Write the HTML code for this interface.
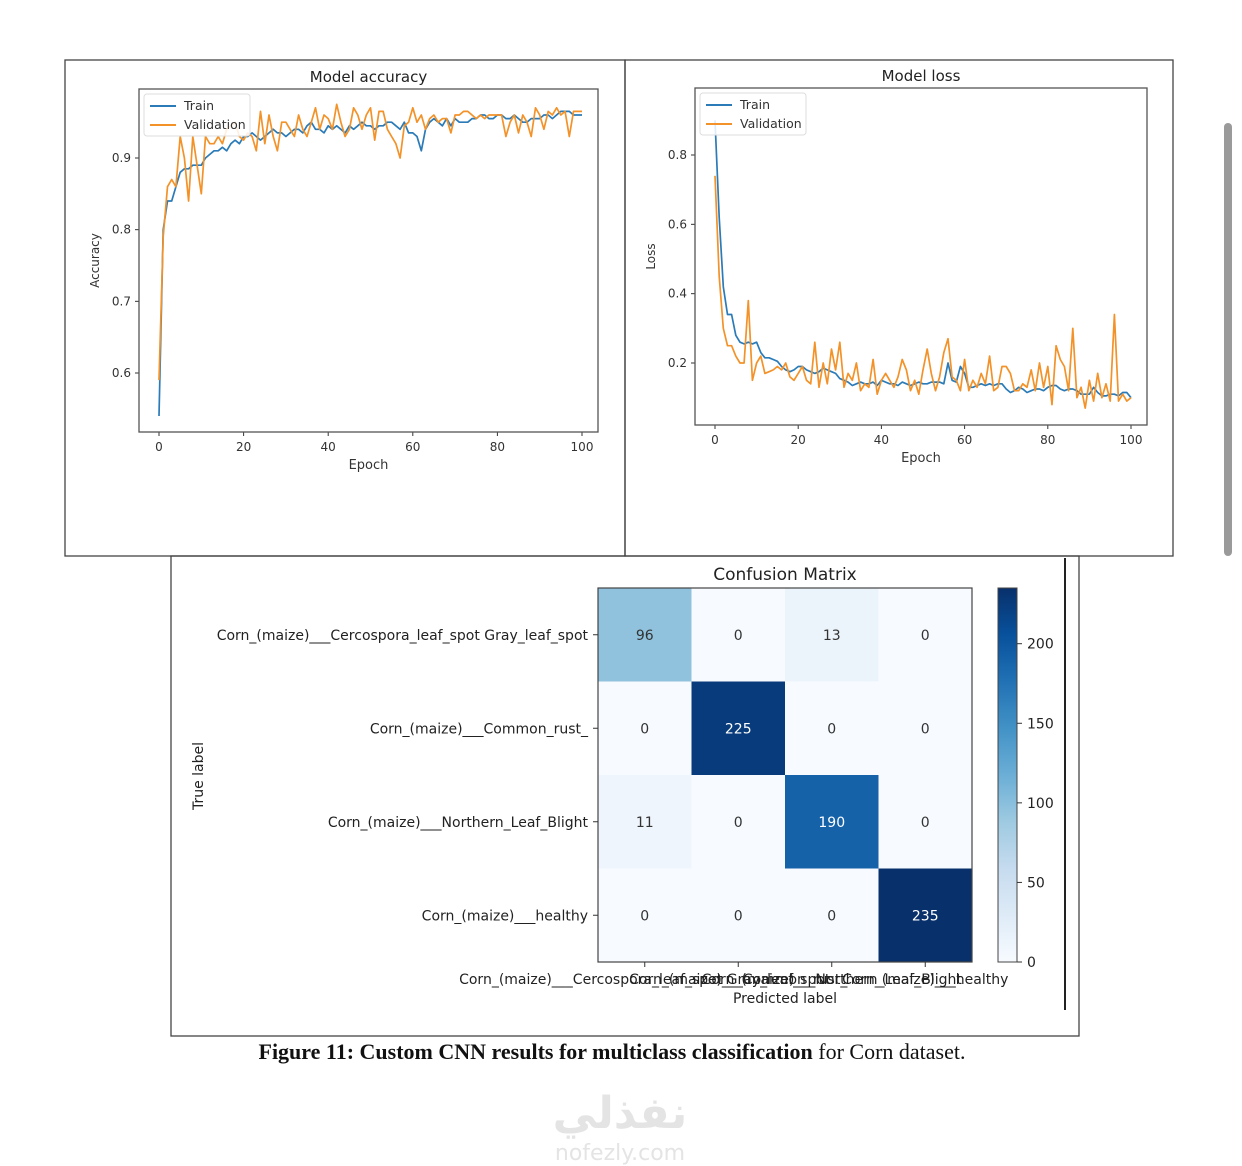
<!DOCTYPE html>
<html><head><meta charset="utf-8"><style>
html,body{margin:0;padding:0;background:#fff;}
body{width:1242px;height:1166px;position:relative;overflow:hidden;font-family:"DejaVu Sans","Liberation Sans",sans-serif;}
svg{position:absolute;left:0;top:0;}
</style></head><body>
<svg id="fig" width="1242" height="1166">
  <rect x="65" y="60" width="560" height="496" fill="none" stroke="#444" stroke-width="1.3"/>
  <rect x="625" y="60" width="548" height="496" fill="none" stroke="#444" stroke-width="1.3"/>
  <rect x="171" y="556" width="908" height="480" fill="none" stroke="#444" stroke-width="1.3"/>
  <line x1="1065" y1="558" x2="1065" y2="1010" stroke="#222" stroke-width="2"/>
  <rect x="1224" y="123" width="8" height="433" rx="4" fill="#9a9a9a"/>
  <g id="acc"></g><g id="loss"></g><g id="cm"></g>
  <text x="612" y="1059" text-anchor="middle" font-family="Liberation Serif, serif" font-size="22" fill="#111"><tspan font-weight="bold">Figure 11: Custom CNN results for multiclass classification</tspan> for Corn dataset.</text>
  <text x="620" y="1128" text-anchor="middle" font-family="Noto Sans CJK SC, DejaVu Sans, sans-serif" font-size="44" font-weight="bold" fill="#e4e4e4">نفذلي</text>
  <text x="620" y="1160" text-anchor="middle" font-size="22" fill="#e4e4e4">nofezly.com</text>
</svg>
<script>
const epochs = Array.from({length:101},(_,i)=>i);
const trainAcc=[0.54,0.80,0.84,0.84,0.86,0.88,0.885,0.885,0.89,0.89,
0.89,0.90,0.905,0.91,0.91,0.915,0.91,0.92,0.925,0.92,
0.93,0.93,0.935,0.93,0.925,0.93,0.935,0.94,0.935,0.935,
0.93,0.935,0.94,0.94,0.935,0.945,0.95,0.94,0.94,0.935,
0.945,0.94,0.945,0.94,0.935,0.945,0.94,0.945,0.95,0.945,
0.945,0.94,0.945,0.945,0.95,0.95,0.945,0.94,0.95,0.935,
0.935,0.93,0.91,0.94,0.95,0.955,0.95,0.945,0.955,0.945,
0.955,0.95,0.95,0.95,0.955,0.955,0.96,0.96,0.955,0.955,
0.96,0.96,0.955,0.955,0.96,0.955,0.95,0.95,0.955,0.955,
0.955,0.96,0.96,0.955,0.96,0.965,0.965,0.965,0.96,0.96,0.96];
const valAcc=[0.59,0.79,0.86,0.87,0.86,0.93,0.90,0.84,0.93,0.89,
0.85,0.93,0.92,0.92,0.93,0.92,0.94,0.945,0.95,0.93,
0.925,0.935,0.93,0.91,0.965,0.92,0.96,0.93,0.91,0.95,
0.95,0.94,0.93,0.96,0.94,0.93,0.95,0.97,0.94,0.96,
0.955,0.94,0.975,0.95,0.93,0.94,0.97,0.96,0.94,0.96,
0.97,0.925,0.965,0.965,0.94,0.93,0.92,0.90,0.945,0.95,
0.97,0.95,0.96,0.94,0.955,0.96,0.95,0.955,0.955,0.935,
0.96,0.96,0.965,0.965,0.96,0.955,0.96,0.955,0.96,0.96,
0.96,0.96,0.93,0.95,0.96,0.935,0.96,0.95,0.93,0.97,
0.96,0.94,0.965,0.96,0.97,0.96,0.965,0.93,0.965,0.965,0.965];
const trainLoss=[0.90,0.62,0.42,0.34,0.34,0.28,0.26,0.255,0.26,0.255,
0.26,0.23,0.215,0.215,0.21,0.205,0.19,0.18,0.175,0.18,
0.19,0.19,0.18,0.175,0.17,0.175,0.185,0.18,0.175,0.17,
0.155,0.15,0.145,0.135,0.14,0.145,0.14,0.14,0.145,0.135,
0.15,0.145,0.14,0.14,0.135,0.145,0.14,0.135,0.14,0.145,
0.14,0.14,0.145,0.145,0.145,0.14,0.20,0.15,0.145,0.19,
0.17,0.13,0.13,0.135,0.14,0.135,0.14,0.135,0.14,0.14,
0.125,0.115,0.12,0.13,0.125,0.115,0.12,0.125,0.125,0.12,
0.13,0.135,0.135,0.125,0.12,0.125,0.125,0.12,0.11,0.11,
0.11,0.13,0.115,0.105,0.105,0.11,0.11,0.105,0.115,0.115,0.10];
const valLoss=[0.74,0.45,0.30,0.25,0.25,0.22,0.20,0.20,0.38,0.15,
0.20,0.22,0.17,0.175,0.18,0.19,0.18,0.20,0.16,0.15,
0.17,0.19,0.15,0.14,0.26,0.13,0.20,0.14,0.24,0.18,
0.26,0.13,0.17,0.15,0.20,0.12,0.14,0.13,0.21,0.11,
0.15,0.17,0.15,0.13,0.16,0.21,0.18,0.12,0.15,0.11,
0.18,0.24,0.17,0.12,0.16,0.23,0.27,0.16,0.15,0.12,
0.21,0.12,0.15,0.13,0.17,0.14,0.22,0.12,0.13,0.19,
0.19,0.17,0.12,0.12,0.14,0.13,0.18,0.12,0.20,0.13,
0.19,0.08,0.25,0.21,0.19,0.12,0.30,0.10,0.13,0.07,
0.15,0.09,0.17,0.10,0.14,0.09,0.34,0.09,0.11,0.09,0.10];
const xTicks=[0,20,40,60,80,100];
const accTicks=[0.6,0.7,0.8,0.9];
const lossTicks=[0.2,0.4,0.6,0.8];
const classes=["Corn_(maize)___Cercospora_leaf_spot Gray_leaf_spot","Corn_(maize)___Common_rust_","Corn_(maize)___Northern_Leaf_Blight","Corn_(maize)___healthy"];
const matrix=[[96,0,13,0],[0,225,0,0],[11,0,190,0],[0,0,0,235]];
const cbTicks=[0,50,100,150,200];

const NS="http://www.w3.org/2000/svg";
function mk(parent,tag,attrs,text){const e=document.createElementNS(NS,tag);for(const k in attrs)e.setAttribute(k,attrs[k]);if(text!==undefined)e.textContent=text;parent.appendChild(e);return e;}

function lineChart(g,cfg){
  const {box,xr,yr,px,py,title,ylabel,ticks,s1,s2,legend}=cfg;
  const X=v=>px[0]+(v-xr[0])/(xr[1]-xr[0])*(px[1]-px[0]);
  const Y=v=>py[0]+(v-yr[0])/(yr[1]-yr[0])*(py[1]-py[0]);
  const t=mk(g,'text',{x:(box[0]+box[2])/2,y:box[1]-7,'text-anchor':'middle','font-size':15,fill:'#222'},title);
  
  
  xTicks.forEach(v=>{
    const l=mk(g,'line',{x1:X(v),x2:X(v),y1:box[3],y2:box[3]+4,stroke:'#333'});
    
    
    const tx=mk(g,'text',{x:X(v),y:box[3]+19,'text-anchor':'middle','font-size':12,fill:'#333'},v);
    
    
  });
  ticks.forEach(v=>{
    const l=mk(g,'line',{x1:box[0]-4,x2:box[0],y1:Y(v),y2:Y(v),stroke:'#333'});
    
    
    const tx=mk(g,'text',{x:box[0]-8,y:Y(v)+4,'text-anchor':'end','font-size':12,fill:'#333'},v.toFixed(1));
    
    
  });
  const xl=mk(g,'text',{x:(box[0]+box[2])/2,y:box[3]+37,'text-anchor':'middle','font-size':13,fill:'#333'},'Epoch');
  
  
  const yx=box[0]-40, yy=(box[1]+box[3])/2;
  const yl=mk(g,'text',{x:yx,y:yy,'text-anchor':'middle','font-size':12,fill:'#333',transform:`rotate(-90 ${yx} ${yy})`},ylabel);
  
  
  [[s1,'#2a7bb8','train-line'],[s2,'#f39228','validation-line']].forEach(([s,c,n])=>{
    const p=mk(g,'polyline',{points:s.map((v,i)=>X(epochs[i]).toFixed(1)+','+Y(v).toFixed(1)).join(' '),fill:'none',stroke:c,'stroke-width':1.7,'stroke-linejoin':'round'});
    
    
  });
  const fr=mk(g,'rect',{x:box[0],y:box[1],width:box[2]-box[0],height:box[3]-box[1],fill:'none',stroke:'#555','stroke-width':1.3});
  
  
  const lg=mk(g,'g',{});
  
  
  mk(lg,'rect',{x:legend[0],y:legend[1],width:106,height:42,rx:3,fill:'#fff','fill-opacity':0.85,stroke:'#ddd'});
  mk(lg,'line',{x1:legend[0]+6,x2:legend[0]+32,y1:legend[1]+12,y2:legend[1]+12,stroke:'#2a7bb8','stroke-width':2});
  mk(lg,'line',{x1:legend[0]+6,x2:legend[0]+32,y1:legend[1]+31,y2:legend[1]+31,stroke:'#f39228','stroke-width':2});
  mk(lg,'text',{x:legend[0]+40,y:legend[1]+16,'font-size':12.5,fill:'#333'},'Train');
  mk(lg,'text',{x:legend[0]+40,y:legend[1]+35,'font-size':12.5,fill:'#333'},'Validation');
}
lineChart(document.getElementById('acc'),{box:[139,89,598,432],xr:[0,100],yr:[0.6,0.9],px:[159,582],py:[373,158],title:'Model accuracy',ylabel:'Accuracy',ticks:accTicks,s1:trainAcc,s2:valAcc,legend:[144,94]});
lineChart(document.getElementById('loss'),{box:[695,88,1147,425],xr:[0,100],yr:[0.2,0.8],px:[715,1131],py:[363,155],title:'Model loss',ylabel:'Loss',ticks:lossTicks,s1:trainLoss,s2:valLoss,legend:[700,93]});

const blues=[[247,251,255],[222,235,247],[198,219,239],[158,202,225],[107,174,214],[66,146,198],[33,113,181],[8,81,156],[8,48,107]];
function cmap(t){t=Math.max(0,Math.min(1,t))*(blues.length-1);const i=Math.min(Math.floor(t),blues.length-2),f=t-i;const c=blues[i].map((v,k)=>Math.round(v+(blues[i+1][k]-v)*f));return `rgb(${c.join(',')})`;}
const cm=document.getElementById('cm');
const vmax=235, gx=598, gy=588, gs=374, n=classes.length, cs=gs/n;
const ct=mk(cm,'text',{x:gx+gs/2,y:gy-8,'text-anchor':'middle','font-size':17,fill:'#222'},'Confusion Matrix');


matrix.forEach((row,r)=>row.forEach((v,c)=>{
  const rc=mk(cm,'rect',{x:gx+c*cs,y:gy+r*cs,width:cs+0.5,height:cs+0.5,fill:cmap(v/vmax)});
  
  
  const tx=mk(cm,'text',{x:gx+c*cs+cs/2,y:gy+r*cs+cs/2+5,'text-anchor':'middle','font-size':14,fill:v/vmax>0.5?'#fff':'#333'},v);
  
  
}));
const gf=mk(cm,'rect',{x:gx,y:gy,width:gs,height:gs,fill:'none',stroke:'#444','stroke-width':1.2});


classes.forEach((c,i)=>{
  const yl=mk(cm,'text',{x:gx-10,y:gy+i*cs+cs/2+5,'text-anchor':'end','font-size':14,fill:'#222'},c);
  
  
  mk(cm,'line',{x1:gx-5,x2:gx,y1:gy+i*cs+cs/2,y2:gy+i*cs+cs/2,stroke:'#333'});
  const xl=mk(cm,'text',{x:gx+i*cs+cs/2,y:gy+gs+22,'text-anchor':'middle','font-size':14,fill:'#222'},c);
  
  
  mk(cm,'line',{x1:gx+i*cs+cs/2,x2:gx+i*cs+cs/2,y1:gy+gs,y2:gy+gs+5,stroke:'#333'});
});
const pl=mk(cm,'text',{x:gx+gs/2,y:gy+gs+41,'text-anchor':'middle','font-size':14,fill:'#222'},'Predicted label');


const tl=mk(cm,'text',{x:203,y:776,'text-anchor':'middle','font-size':14,fill:'#222',transform:'rotate(-90 203 776)'},'True label');


const defs=mk(cm,'defs',{});
const lgd=mk(defs,'linearGradient',{id:'cbg',x1:0,y1:1,x2:0,y2:0});
blues.forEach((b,i)=>mk(lgd,'stop',{offset:i/(blues.length-1),'stop-color':`rgb(${b.join(',')})`}));
const cbx=998,cbw=19;
const cb=mk(cm,'rect',{x:cbx,y:gy,width:cbw,height:gs,fill:'url(#cbg)',stroke:'#444','stroke-width':1});


cbTicks.forEach(v=>{
  const y=gy+gs-v/vmax*gs;
  mk(cm,'line',{x1:cbx+cbw,x2:cbx+cbw+5,y1:y,y2:y,stroke:'#333'});
  const tx=mk(cm,'text',{x:cbx+cbw+10,y:y+5,'font-size':14,fill:'#222'},v);
  
  
});
</script>
</body></html>
